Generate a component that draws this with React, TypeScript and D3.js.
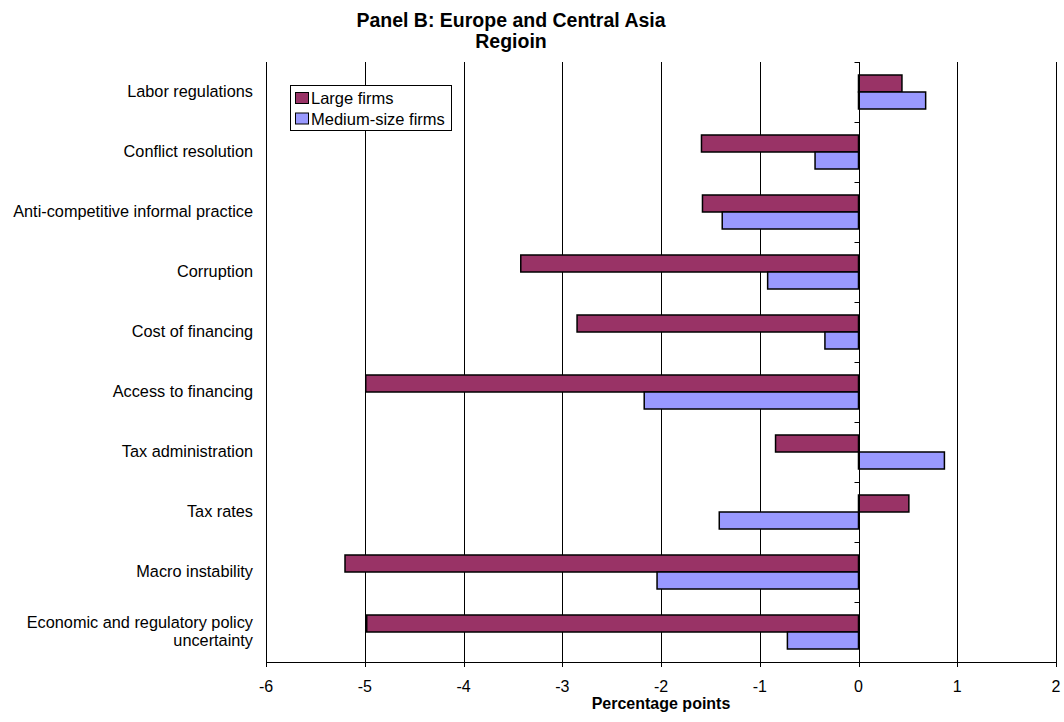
import React from "react";
import * as d3 from "d3";

const categories = [
  "Labor regulations",
  "Conflict resolution",
  "Anti-competitive informal practice",
  "Corruption",
  "Cost of financing",
  "Access to financing",
  "Tax administration",
  "Tax rates",
  "Macro instability",
  "Economic and regulatory policy uncertainty",
];
const largeFirms = [0.44, -1.59, -1.58, -3.42, -2.85, -4.99, -0.84, 0.51, -5.2, -4.98];
const mediumFirms = [0.68, -0.44, -1.38, -0.92, -0.34, -2.17, 0.87, -1.41, -2.04, -0.72];
const xTicks = [-6, -5, -4, -3, -2, -1, 0, 1, 2];
const seriesNames = ["Large firms", "Medium-size firms"];
const colors = ["#993366", "#9999FF"];

export default function App() {
  const W = 1064, H = 722;
  const left = 266, right = 1056, top = 62, bottom = 662;
  const x = d3.scaleLinear().domain([-6, 2]).range([left, right]);
  const y = d3.scaleBand<string>().domain(categories).range([top, bottom]).paddingInner(0).paddingOuter(0);
  const bw = y.bandwidth();
  const barH = 17;
  const off = (bw - 2 * barH) / 2;
  const font = "Arial, 'Liberation Sans', sans-serif";
  const x0 = Math.round(x(0)) + 0.5;
  const series = [largeFirms, mediumFirms];

  const labelLines = (c: string) =>
    c === "Economic and regulatory policy uncertainty"
      ? ["Economic and regulatory policy", "uncertainty"]
      : [c];

  return (
    <svg width={W} height={H} style={{ position: "absolute", left: 0, top: 0 }} fontFamily={font}>
      <rect x={0} y={0} width={W} height={H} fill="#fff" />
      <text x={511} y={26.5} textAnchor="middle" fontSize={19.5} fontWeight="bold">Panel B: Europe and Central Asia</text>
      <text x={511} y={47.5} textAnchor="middle" fontSize={19.5} fontWeight="bold">Regioin</text>
      {/* gridlines */}
      {xTicks.map((t) => (
        <line key={"g" + t} x1={Math.round(x(t)) + 0.5} x2={Math.round(x(t)) + 0.5} y1={top} y2={bottom} stroke="#000" strokeWidth={1} />
      ))}
      {/* bars */}
      {categories.map((c, i) =>
        series.map((s, j) => {
          const v = s[i];
          const yy = (y(c) as number) + off + j * barH;
          const xa = x(Math.min(0, v));
          const xb = x(Math.max(0, v));
          return (
            <rect key={c + j} x={xa} y={yy} width={xb - xa} height={barH} fill={colors[j]} stroke="#000" strokeWidth={1.5} />
          );
        })
      )}
      {/* category axis at zero */}
      <line x1={x0} x2={x0} y1={top} y2={bottom} stroke="#000" />
      {d3.range(categories.length + 1).map((i) => {
        const yy = top + i * bw;
        return <line key={"ct" + i} x1={x0 - 5} x2={x0} y1={yy + 0.5} y2={yy + 0.5} stroke="#000" />;
      })}
      {/* x axis */}
      <line x1={left} x2={right} y1={bottom + 0.5} y2={bottom + 0.5} stroke="#000" />
      {xTicks.map((t) => (
        <g key={"t" + t}>
          <line x1={Math.round(x(t)) + 0.5} x2={Math.round(x(t)) + 0.5} y1={bottom} y2={bottom + 5} stroke="#000" />
          <text x={x(t)} y={692} textAnchor="middle" fontSize={16}>{t}</text>
        </g>
      ))}
      <text x={661} y={709} textAnchor="middle" fontSize={16} fontWeight="bold">Percentage points</text>
      {/* category labels */}
      {categories.map((c) => {
        const lines = labelLines(c);
        const cy = (y(c) as number) + bw / 2;
        return lines.map((l, k) => (
          <text key={c + k} x={253} y={cy + 5 + (k - (lines.length - 1) / 2) * 18} textAnchor="end" fontSize={16.3}>{l}</text>
        ));
      })}
      {/* legend */}
      <rect x={290.5} y={85.5} width={161} height={45} fill="#fff" stroke="#000" />
      {seriesNames.map((n, j) => (
        <g key={n}>
          <rect x={295.5} y={92.5 + j * 20.5} width={13} height={11} fill={colors[j]} stroke="#000" />
          <text x={311} y={104 + j * 20.5} fontSize={16.5}>{n}</text>
        </g>
      ))}
    </svg>
  );
}
